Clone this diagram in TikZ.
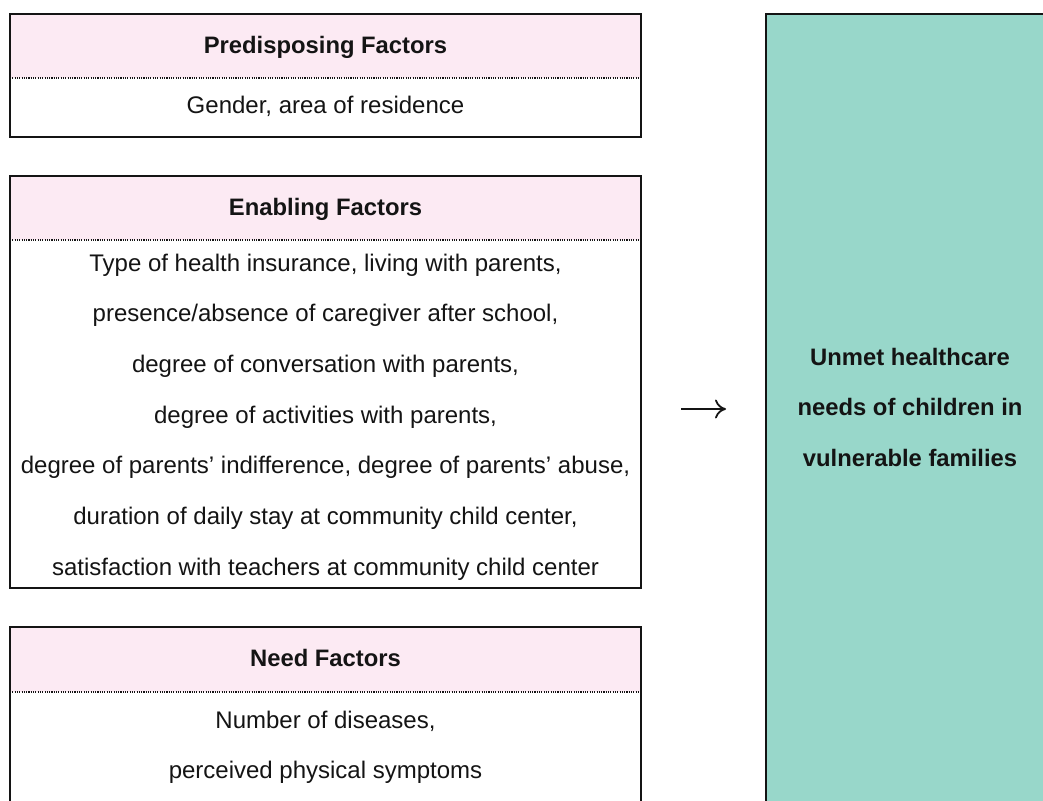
\documentclass[tikz,border=0pt]{standalone}
\usepackage{fontspec}
\setmainfont{Liberation Sans}
\usetikzlibrary{arrows.meta}
\definecolor{hdrpink}{RGB}{252,234,243}
\definecolor{tealbox}{RGB}{152,215,202}
\definecolor{ink}{RGB}{20,20,20}
\begin{document}
\begin{tikzpicture}[x=1pt,y=-1pt,
  box/.style={draw=ink, line width=1.3pt, inner sep=0pt, outer sep=0pt, anchor=north west, minimum width=631pt},
  hdr/.style={fill=hdrpink},
  sep/.style={line width=1.2pt, dash pattern=on 1.1pt off 1.2pt, draw=ink},
  txt/.style={font=\fontsize{24}{24}\selectfont, anchor=base, inner sep=0pt, text=ink},
  btxt/.style={txt, font=\bfseries\fontsize{23.8}{24}\selectfont},
  arrowline/.style={draw=ink, line width=1.8pt, -{To[length=11pt,width=19pt]}},
]
\useasboundingbox (0,0) rectangle (1043,800);
\clip (0,0) rectangle (1043,800);
\fill[white] (0,0) rectangle (1043,800);

% Predisposing
\path[hdr] (10,14) rectangle (641,78);
\draw[sep] (10,78) -- (641,78);
\node[box, minimum height=123pt] (pre) at (10,14) {};
\node[btxt] (preh) at (325.5,53) {Predisposing Factors};
\node[txt] (preb) at (325.5,113) {Gender, area of residence};

% Enabling
\path[hdr] (10,176) rectangle (641,240);
\draw[sep] (10,240) -- (641,240);
\node[box, minimum height=412pt] (ena) at (10,176) {};
\node[btxt] (enah) at (325.5,215) {Enabling Factors};
\node[txt] (ena1) at (325.5,271) {Type of health insurance, living with parents,};
\node[txt] (ena2) at (325.5,321.7) {presence/absence of caregiver after school,};
\node[txt] (ena3) at (325.5,372.4) {degree of conversation with parents,};
\node[txt] (ena4) at (325.5,423.1) {degree of activities with parents,};
\node[txt] (ena5) at (325.5,473.8) {degree of parents’ indifference, degree of parents’ abuse,};
\node[txt] (ena6) at (325.5,524.5) {duration of daily stay at community child center,};
\node[txt] (ena7) at (325.5,575.2) {satisfaction with teachers at community child center};

% Need
\path[hdr] (10,627) rectangle (641,692);
\draw[sep] (10,692) -- (641,692);
\node[box, minimum height=220pt] (need) at (10,627) {};
\node[btxt] (needh) at (325.5,666) {Need Factors};
\node[txt] (need1) at (325.5,728) {Number of diseases,};
\node[txt] (need2) at (325.5,778.5) {perceived physical symptoms};

% Outcome
\node[box, fill=tealbox, minimum width=290pt, minimum height=850pt] (out) at (766,14) {};
\node[btxt] (out1) at (910,365) {Unmet healthcare};
\node[btxt] (out2) at (910,415.7) {needs of children in};
\node[btxt] (out3) at (910,466.4) {vulnerable families};

% Arrow
\coordinate (arrS) at (681,409);
\coordinate (arrE) at (726,409);
\draw[arrowline] (arrS) -- (arrE);
\end{tikzpicture}
\end{document}
